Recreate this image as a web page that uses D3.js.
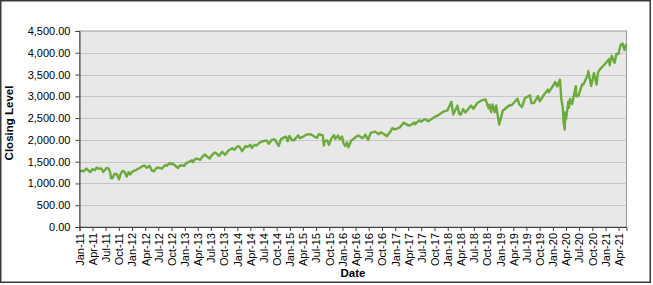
<!DOCTYPE html>
<html>
<head>
<meta charset="utf-8">
<style type="text/css">
body { margin: 0; background: #fff; }
text { font-family: "Liberation Sans", Arial, sans-serif; fill: #000; }
.grid line { stroke: #c6c6c6; stroke-width: 1.2; }
.axis path, .axis line { stroke: #404040; }
.pathline { fill: none; stroke: #6aab3b; stroke-width: 2.4; stroke-linejoin: round; }
</style>
<script src="https://d3js.org/d3.v7.min.js"></script>
</head>
<body>
<div class="newsletter"></div>
<script type="text/javascript">
// S&P 500 closes (key turns and swings)
var dates = [
"2011-01-03","2011-01-14","2011-01-28","2011-02-18","2011-03-01","2011-03-16","2011-03-31","2011-04-18","2011-04-29","2011-05-13","2011-05-31","2011-06-15","2011-06-30","2011-07-07","2011-07-22","2011-08-02","2011-08-08","2011-08-19","2011-08-31","2011-09-16","2011-10-03","2011-10-14","2011-10-27","2011-11-08","2011-11-25","2011-12-07","2011-12-19","2011-12-30",
"2012-01-13","2012-01-31","2012-02-15","2012-02-29","2012-03-15","2012-03-30","2012-04-10","2012-04-20","2012-05-01","2012-05-18","2012-06-01","2012-06-19","2012-07-02","2012-07-25","2012-08-17","2012-08-31","2012-09-14","2012-09-28","2012-10-05","2012-10-26","2012-11-15","2012-11-30","2012-12-14","2012-12-28","2012-12-31",
"2013-01-15","2013-01-31","2013-02-19","2013-02-25","2013-03-14","2013-03-28","2013-04-18","2013-04-30","2013-05-21","2013-05-31","2013-06-24","2013-06-28","2013-07-22","2013-08-02","2013-08-27","2013-09-18","2013-10-08","2013-10-31","2013-11-27","2013-12-12","2013-12-31",
"2014-01-15","2014-02-03","2014-02-28","2014-03-14","2014-04-02","2014-04-11","2014-04-30","2014-05-15","2014-05-30","2014-06-20","2014-07-24","2014-08-07","2014-08-29","2014-09-18","2014-10-15","2014-10-31","2014-11-28","2014-12-05","2014-12-16","2014-12-29",
"2015-01-15","2015-01-30","2015-02-27","2015-03-11","2015-03-31","2015-04-24","2015-05-21","2015-06-12","2015-06-29","2015-07-08","2015-07-20","2015-08-17","2015-08-25","2015-08-31","2015-09-17","2015-09-29","2015-10-15","2015-11-03","2015-11-13","2015-12-01","2015-12-14","2015-12-29",
"2016-01-08","2016-01-20","2016-02-01","2016-02-11","2016-03-01","2016-03-31","2016-04-20","2016-05-19","2016-06-08","2016-06-27","2016-07-15","2016-08-15","2016-09-09","2016-09-22","2016-10-14","2016-11-04","2016-11-30","2016-12-13","2016-12-30",
"2017-01-31","2017-03-01","2017-03-27","2017-04-13","2017-05-15","2017-05-17","2017-06-19","2017-06-29","2017-07-26","2017-08-18","2017-09-29","2017-10-31","2017-11-30","2017-12-29",
"2018-01-26","2018-02-08","2018-03-09","2018-03-23","2018-04-02","2018-04-18","2018-05-03","2018-06-12","2018-06-28","2018-07-25","2018-08-29","2018-09-20","2018-10-11","2018-10-17","2018-10-29","2018-11-07","2018-11-23","2018-12-03","2018-12-24",
"2019-01-18","2019-01-31","2019-02-28","2019-03-22","2019-04-30","2019-05-13","2019-05-31","2019-06-20","2019-07-26","2019-08-05","2019-08-23","2019-09-19","2019-10-02","2019-10-31","2019-11-27","2019-12-03","2019-12-31",
"2020-01-17","2020-01-31","2020-02-19","2020-02-28","2020-03-09","2020-03-16","2020-03-23","2020-03-26","2020-04-01","2020-04-17","2020-04-21","2020-04-29","2020-05-13","2020-06-08","2020-06-11","2020-06-26","2020-07-22","2020-07-31","2020-08-31","2020-09-02","2020-09-23","2020-10-12","2020-10-30","2020-11-09","2020-11-27","2020-12-18","2020-12-31",
"2021-01-25","2021-01-29","2021-02-12","2021-03-04","2021-03-17","2021-03-31","2021-04-16","2021-04-29","2021-05-12","2021-05-24"
];
var closes = [
1271,1293,1276,1343,1306,1257,1326,1305,1364,1338,1345,1265,1321,1353,1345,1254,1119,1124,1219,1216,1099,1225,1285,1275,1158,1261,1206,1258,
1289,1312,1343,1366,1402,1408,1358,1378,1405,1295,1278,1357,1365,1338,1418,1407,1466,1441,1461,1412,1353,1416,1413,1402,1426,
1472,1498,1530,1488,1563,1569,1541,1598,1669,1631,1573,1606,1695,1709,1631,1726,1656,1757,1808,1775,1848,
1848,1742,1859,1841,1890,1816,1884,1870,1924,1963,1988,1910,2003,2011,1862,2018,2068,2075,1972,2090,
1993,1995,2105,2040,2068,2117,2131,2095,2058,2047,2129,2102,1868,1972,1990,1884,2023,2110,2023,2103,2012,2078,
1922,1859,1940,1829,1978,2060,2102,2040,2119,2001,2162,2190,2128,2177,2133,2085,2199,2271,2239,
2279,2396,2342,2329,2402,2357,2453,2419,2477,2426,2519,2575,2648,2674,
2873,2581,2786,2588,2582,2708,2630,2787,2716,2846,2914,2931,2728,2809,2641,2814,2633,2790,2351,
2671,2704,2784,2801,2946,2812,2752,2954,3026,2844,2847,3006,2887,3038,3154,3093,3231,
3330,3226,3386,2954,2747,2386,2237,2630,2471,2875,2737,2939,2820,3232,3002,3009,3276,3271,3500,3580,3237,3534,3270,3550,3638,3709,3756,
3855,3714,3934,3768,3975,3973,4185,4211,4063,4197
];
var yTicks = [0, 500, 1000, 1500, 2000, 2500, 3000, 3500, 4000, 4500];
var xStart = "2011-01-01", xEnd = "2021-05-26";

var width = 653, height = 285;
var pLeft = 79.5, pRight = 626.5, pTop = 31, pBottom = 227;
var parse = d3.timeParse("%Y-%m-%d");

var data = dates.map(function(d, i) { return { date: parse(d), close: closes[i] }; });

var svg = d3.select(".newsletter").append("svg").attr("width", width).attr("height", height);

// outer frame
svg.append("rect").attr("x", 0.75).attr("y", 0.75).attr("width", 649.5).attr("height", 281.5)
	.attr("fill", "#fff").attr("stroke", "#3a3a3a").attr("stroke-width", 1.5);

var x = d3.scaleTime().domain([parse(xStart), parse(xEnd)]).range([pLeft, pRight]);
var y = d3.scaleLinear().domain([0, 4500]).range([pBottom, pTop]);

svg.append("rect").attr("x", pLeft).attr("y", pTop).attr("width", pRight - pLeft).attr("height", pBottom - pTop)
	.attr("fill", "#e8e8e8").attr("stroke", "#9a9a9a").attr("stroke-width", 1);

svg.append("g").attr("class", "grid")
	.selectAll("line").data(yTicks.slice(1, -1)).enter().append("line")
	.attr("x1", pLeft).attr("x2", pRight)
	.attr("y1", function(d) { return Math.round(y(d)) + 0.5; })
	.attr("y2", function(d) { return Math.round(y(d)) + 0.5; });

var line = d3.line()
	.x(function(d) { return x(d.date); })
	.y(function(d) { return y(d.close); });

svg.append("path").data([data]).attr("class", "pathline").attr("d", line);

var yAxis = d3.axisLeft(y).tickValues(yTicks).tickSize(4).tickPadding(5).tickFormat(d3.format(",.2f"));
var gy = svg.append("g").attr("class", "axis").attr("transform", "translate(" + pLeft + ",0)").call(yAxis);
gy.selectAll("text").style("font-size", "11px");

var xAxis = d3.axisBottom(x).ticks(d3.timeMonth.every(3)).tickSize(4).tickFormat(d3.timeFormat("%b-%y"));
var gx = svg.append("g").attr("class", "axis").attr("transform", "translate(0," + pBottom + ")").call(xAxis);
gx.selectAll("text")
	.style("font-size", "11px")
	.attr("transform", "rotate(-90)")
	.attr("text-anchor", "end")
	.attr("x", -6).attr("y", 0).attr("dy", "0.35em");

svg.append("text").attr("x", (pLeft + pRight) / 2).attr("y", 277)
	.attr("text-anchor", "middle").style("font-size", "11.5px").style("font-weight", "bold").text("Date");

svg.append("text").attr("transform", "translate(13,123) rotate(-90)")
	.attr("text-anchor", "middle").style("font-size", "11.5px").style("font-weight", "bold").text("Closing Level");
</script>
</body>
</html>
